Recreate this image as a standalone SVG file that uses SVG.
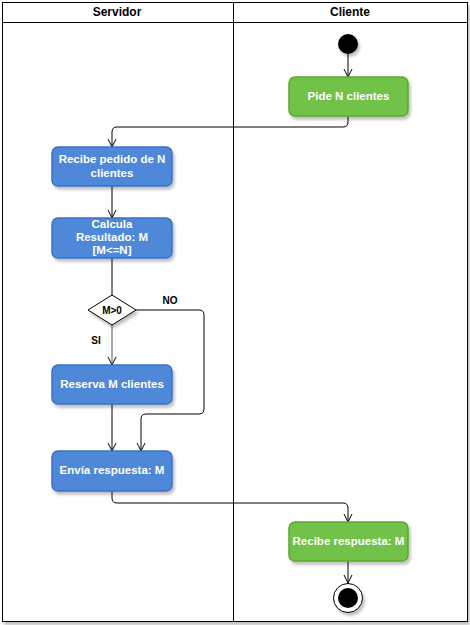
<svg xmlns="http://www.w3.org/2000/svg" width="470" height="625" viewBox="0 0 470 625">
<style>
.lane{fill:#fff;stroke:#000;stroke-width:1}
.hdr{font-family:"Liberation Sans",Arial,sans-serif;font-size:12px;font-weight:bold;fill:#000;text-anchor:middle}
.blue{fill:#5088D8;stroke:#3A70C8;stroke-width:1.5}
.green{fill:#72C24A;stroke:#5BA82E;stroke-width:1.5}
.t{font-family:"Liberation Sans",Arial,sans-serif;font-size:11.5px;font-weight:bold;fill:#fff;text-anchor:middle}
.lbl{font-family:"Liberation Sans",Arial,sans-serif;font-size:10px;font-weight:bold;fill:#000;text-anchor:middle}
.edge{fill:none;stroke:#000;stroke-width:1;marker-end:url(#arr)}
.line{fill:none;stroke:#000;stroke-width:1}
</style>
<defs>
<marker id="arr" viewBox="0 0 10 10" refX="9" refY="5" markerWidth="10" markerHeight="10" markerUnits="userSpaceOnUse" orient="auto">
<path d="M1,1 L9,5 L1,9" fill="none" stroke="#000" stroke-width="1"/>
</marker>
<filter id="sh" x="-20%" y="-20%" width="150%" height="150%">
<feGaussianBlur in="SourceAlpha" stdDeviation="1.5"/>
<feOffset dx="2" dy="3" result="b"/>
<feComponentTransfer><feFuncA type="linear" slope="0.25"/></feComponentTransfer>
<feMerge><feMergeNode/><feMergeNode in="SourceGraphic"/></feMerge>
</filter>
</defs>
<g id="pool">
<rect x="2.5" y="2.5" width="465" height="619" class="lane" filter="url(#sh)"/>
<line x1="2.5" y1="22.5" x2="467.5" y2="22.5" stroke="#000"/>
<line x1="233.5" y1="2.5" x2="233.5" y2="621.5" stroke="#000"/>
<text x="117" y="16" class="hdr">Servidor</text>
<text x="350" y="16" class="hdr">Cliente</text>
</g>
<g id="connectors">
<line x1="348" y1="54" x2="348" y2="77" class="edge"/>
<path d="M348,116 V122 Q348,127 343,127 H117 Q112,127 112,132 V147" class="edge"/>
<line x1="112" y1="186" x2="112" y2="218" class="edge"/>
<line x1="112" y1="258" x2="112" y2="295" class="line" stroke="#555"/>
<line x1="112" y1="325" x2="112" y2="365" class="edge" style="stroke:#555"/>
<path d="M136,310 H199 Q204,310 204,315 V409 Q204,414 199,414 H146 Q141,414 141,419 V451" class="edge"/>
<line x1="112" y1="404" x2="112" y2="451" class="edge"/>
<path d="M112,491 V498 Q112,503 117,503 H343 Q348,503 348,508 V522" class="edge"/>
<line x1="348" y1="561" x2="348" y2="583" class="edge"/>
</g>
<g id="start"><circle cx="348" cy="44" r="10" fill="#000" filter="url(#sh)"/></g>
<g id="pide"><rect x="289" y="77" width="119" height="39" rx="6" class="green" filter="url(#sh)"/><text x="348.5" y="100" class="t">Pide N clientes</text></g>
<g id="recibePedido"><rect x="52" y="147" width="120" height="39" rx="6" class="blue" filter="url(#sh)"/><text x="112" y="163" class="t">Recibe pedido de N</text><text x="112" y="177" class="t">clientes</text></g>
<g id="calcula"><rect x="52" y="218" width="120" height="40" rx="6" class="blue" filter="url(#sh)"/><text x="112" y="228" class="t">Calcula</text><text x="112" y="241" class="t">Resultado: M</text><text x="112" y="254" class="t">[M&lt;=N]</text></g>
<g id="decision"><path d="M112,295 L136,310 L112,325 L88,310 Z" fill="#fff" stroke="#000" filter="url(#sh)"/><text x="112" y="314" class="lbl" style="font-size:10px">M&gt;0</text></g>
<text x="170" y="304" class="lbl">NO</text>
<text x="96" y="344" class="lbl">SI</text>
<g id="reserva"><rect x="52" y="365" width="120" height="39" rx="6" class="blue" filter="url(#sh)"/><text x="112" y="388" class="t">Reserva M clientes</text></g>
<g id="envia"><rect x="52" y="451" width="120" height="40" rx="6" class="blue" filter="url(#sh)"/><text x="112" y="474" class="t">Envía respuesta: M</text></g>
<g id="recibeResp"><rect x="289" y="522" width="119" height="39" rx="6" class="green" filter="url(#sh)"/><text x="348.5" y="545" class="t">Recibe respuesta: M</text></g>
<g id="end"><circle cx="348" cy="598" r="14.5" fill="#fff" stroke="#000" stroke-width="1" filter="url(#sh)"/><circle cx="348" cy="598" r="10" fill="#000"/></g>
</svg>
